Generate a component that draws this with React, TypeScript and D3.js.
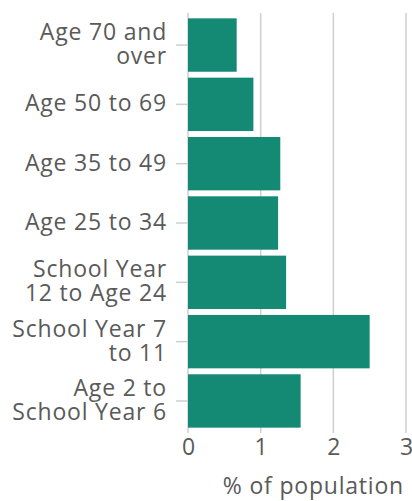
import { useRef, useEffect } from 'react';
import * as d3 from 'd3';

const categories = [
  'Age 70 and|over',
  'Age 50 to 69',
  'Age 35 to 49',
  'Age 25 to 34',
  'School Year|12 to Age 24',
  'School Year 7|to 11',
  'Age 2 to|School Year 6',
];
const values = [0.67, 0.9, 1.27, 1.24, 1.35, 2.5, 1.55];
const xTicks = [0, 1, 2, 3];
const xTitle = '% of population';

const width = 412;
const height = 501;
const font = '"Open Sans", sans-serif';
const textColor = '#5a5a5a';

document.body.style.margin = '0';

export default function App() {
  const svgRef = useRef<SVGSVGElement>(null);

  useEffect(() => {
    if (!svgRef.current) return;
    const svg = d3.select(svgRef.current);
    svg.selectAll('*').remove();

    const margin = { top: 13, right: 6, bottom: 68, left: 188 };
    const w = width - margin.left - margin.right;
    const h = height - margin.top - margin.bottom;

    const g = svg.append('g').attr('transform', `translate(${margin.left},${margin.top})`);

    const x = d3.scaleLinear().domain([0, 3]).range([0, w]);
    const y = d3.scaleBand<string>().domain(categories).range([0, h]).paddingInner(0.1).paddingOuter(0.09);

    // Grid
    g.append('g')
      .selectAll('line')
      .data(xTicks)
      .join('line')
      .attr('x1', (d) => x(d))
      .attr('x2', (d) => x(d))
      .attr('y1', 0)
      .attr('y2', h)
      .attr('stroke', '#cfcfcf')
      .attr('stroke-width', 1.5);

    // Bars
    g.selectAll('.bar')
      .data(categories)
      .join('rect')
      .attr('x', x(0))
      .attr('y', (d) => y(d)!)
      .attr('width', (d, i) => x(values[i]) - x(0))
      .attr('height', y.bandwidth())
      .attr('fill', '#148a75');

    // X axis
    const xAxis = g.append('g')
      .attr('transform', `translate(0,${h})`)
      .call(d3.axisBottom(x).tickValues(xTicks).tickSize(0).tickPadding(6).tickFormat(d3.format('d')));
    xAxis.select('.domain').remove();
    xAxis.selectAll('text')
      .attr('font-family', font)
      .attr('font-size', '23px')
      .attr('fill', textColor);

    // Y axis
    const yAxis = g.append('g')
      .call(d3.axisLeft(y).tickSize(12).tickPadding(9).tickFormat(() => ''));
    yAxis.select('.domain').remove();
    yAxis.selectAll('line').attr('stroke', '#cfcfcf').attr('stroke-width', 1.5);
    yAxis.selectAll<SVGTextElement, string>('text')
      .attr('font-family', font)
      .attr('font-size', '23px')
      .attr('letter-spacing', '0.8px')
      .attr('fill', textColor)
      .attr('dy', null)
      .each(function (d) {
        const lines = d.split('|');
        const t = d3.select(this);
        lines.forEach((ln, i) => {
          t.append('tspan')
            .attr('x', -21)
            .attr('y', 7 - (lines.length - 1) * 12 + i * 24)
            .text(ln);
        });
      });

    // X title
    svg.append('text')
      .attr('x', 404)
      .attr('y', 494)
      .attr('text-anchor', 'end')
      .attr('font-family', font)
      .attr('font-size', '23px')
      .attr('letter-spacing', '0.8px')
      .attr('fill', textColor)
      .text(xTitle);
  }, []);

  return <svg ref={svgRef} width={width} height={height} style={{ display: 'block' }} />;
}
